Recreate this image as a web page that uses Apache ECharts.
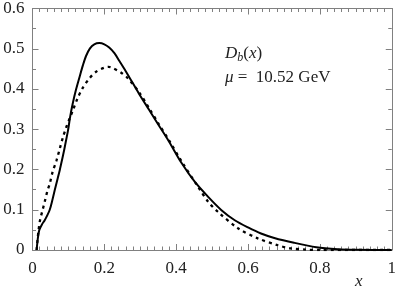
<!DOCTYPE html>
<html>
<head>
<meta charset="utf-8">
<script src="https://cdn.jsdelivr.net/npm/echarts@6/dist/echarts.min.js"></script>
<style>html,body{margin:0;padding:0;background:#fff}#c{width:399px;height:291px}</style>
</head>
<body>
<div id="c"></div>
<script>
var xTicks = [0, 0.2, 0.4, 0.6, 0.8, 1];
var yTicks = [0, 0.1, 0.2, 0.3, 0.4, 0.5, 0.6];

var solidX = [0.0115,0.015,0.019,0.026,0.034,0.041,0.048,0.055,0.062,0.069,0.076,0.082,0.088,0.094,0.099,0.105,0.112,0.121,0.131,0.140,0.149,0.160,0.172,0.186,0.200,0.2135,0.228,0.241,0.255,0.269,0.296,0.324,0.350,0.379,0.415,0.452,0.489,0.526,0.563,0.600,0.636,0.673,0.728,0.790,0.850,0.900,0.950,1.000];
var solidY = [0,0.030,0.050,0.063,0.074,0.086,0.100,0.123,0.149,0.174,0.199,0.223,0.248,0.275,0.298,0.332,0.364,0.398,0.430,0.458,0.482,0.501,0.511,0.514,0.511,0.503,0.489,0.471,0.451,0.430,0.389,0.349,0.312,0.271,0.216,0.169,0.132,0.099,0.074,0.056,0.041,0.030,0.018,0.007,0.002,0.0004,0,0];

var dashX = [0.0115,0.014,0.017,0.021,0.028,0.034,0.041,0.048,0.056,0.067,0.076,0.085,0.094,0.103,0.112,0.125,0.140,0.158,0.177,0.200,0.212,0.223,0.246,0.264,0.296,0.324,0.352,0.379,0.415,0.461,0.489,0.516,0.572,0.627,0.682,0.718,0.760,0.800,1.000];
var dashY = [0,0.025,0.050,0.074,0.099,0.120,0.145,0.165,0.194,0.223,0.252,0.281,0.305,0.326,0.346,0.376,0.403,0.426,0.443,0.453,0.455,0.452,0.441,0.428,0.393,0.353,0.312,0.274,0.220,0.157,0.120,0.095,0.054,0.029,0.012,0.004,0.001,0,0];

function zip(a, b) { return a.map(function (v, i) { return [v, b[i]]; }); }

var font = 'Liberation Serif';
var axisCol = '#808080';
var txtCol = '#222';
var chart = echarts.init(document.getElementById('c'), null, {renderer: 'canvas'});

function xAx(pos, show) {
  return {
    type: 'value', position: pos, min: xTicks[0], max: xTicks[xTicks.length - 1], interval: 0.2,
    axisLine: {show: true, onZero: false, lineStyle: {color: axisCol, width: 1}},
    axisTick: {show: true, inside: true, length: 6, lineStyle: {color: axisCol}},
    minorTick: {show: true, splitNumber: 10, length: 3.5, lineStyle: {color: axisCol}},
    axisLabel: {show: show, color: txtCol, fontFamily: font, fontSize: 17, margin: 10,
      formatter: function (v) { return String(+v.toFixed(1)); }},
    splitLine: {show: false}
  };
}
function yAx(pos, show) {
  return {
    type: 'value', position: pos, min: yTicks[0], max: yTicks[yTicks.length - 1], interval: 0.1,
    axisLine: {show: true, onZero: false, lineStyle: {color: axisCol, width: 1}},
    axisTick: {show: true, inside: true, length: 6, lineStyle: {color: axisCol}},
    minorTick: {show: true, splitNumber: 2, length: 3.5, lineStyle: {color: axisCol}},
    axisLabel: {show: show, color: txtCol, fontFamily: font, fontSize: 17, margin: 8,
      formatter: function (v) { return String(+v.toFixed(1)); }},
    splitLine: {show: false}
  };
}

chart.setOption({
  animation: false,
  backgroundColor: '#fff',
  textStyle: {fontFamily: font},
  grid: {left: 32.5, right: 4, top: 8, bottom: 41, containLabel: false},
  xAxis: [xAx('bottom', true), xAx('top', false)],
  yAxis: [yAx('left', true), yAx('right', false)],
  series: [
    {type: 'line', data: zip(solidX, solidY), smooth: 0.3, showSymbol: false,
      lineStyle: {color: '#000', width: 2}, xAxisIndex: 0, yAxisIndex: 0},
    {type: 'line', data: zip(dashX, dashY), smooth: 0.3, showSymbol: false,
      lineStyle: {color: '#000', width: 2.3, type: [3, 4]}, xAxisIndex: 0, yAxisIndex: 0}
  ],
  graphic: [
    {type: 'text', left: 225, top: 45, style: {
      text: '{i|D}{s|b}{n|(}{i|x}{n|)}', fill: txtCol, fontFamily: font, fontSize: 17,
      rich: {
        i: {fontFamily: font, fontStyle: 'italic', fontSize: 17, fill: txtCol},
        n: {fontFamily: font, fontSize: 17, fill: txtCol},
        s: {fontFamily: font, fontStyle: 'italic', fontSize: 12, fill: txtCol, padding: [9, 0, 0, 0]}
      }}},
    {type: 'text', left: 225, top: 69, style: {
      text: '{i|\u03bc}{n| =  10.52 GeV}', fill: txtCol, fontFamily: font, fontSize: 17,
      rich: {
        i: {fontFamily: font, fontStyle: 'italic', fontSize: 17, fill: txtCol},
        n: {fontFamily: font, fontSize: 17, fill: txtCol}
      }}},
    {type: 'text', left: 355, top: 273, style: {
      text: 'x', fontFamily: font, fontStyle: 'italic', fontSize: 17, fill: txtCol}}
  ]
});
</script>
</body>
</html>
